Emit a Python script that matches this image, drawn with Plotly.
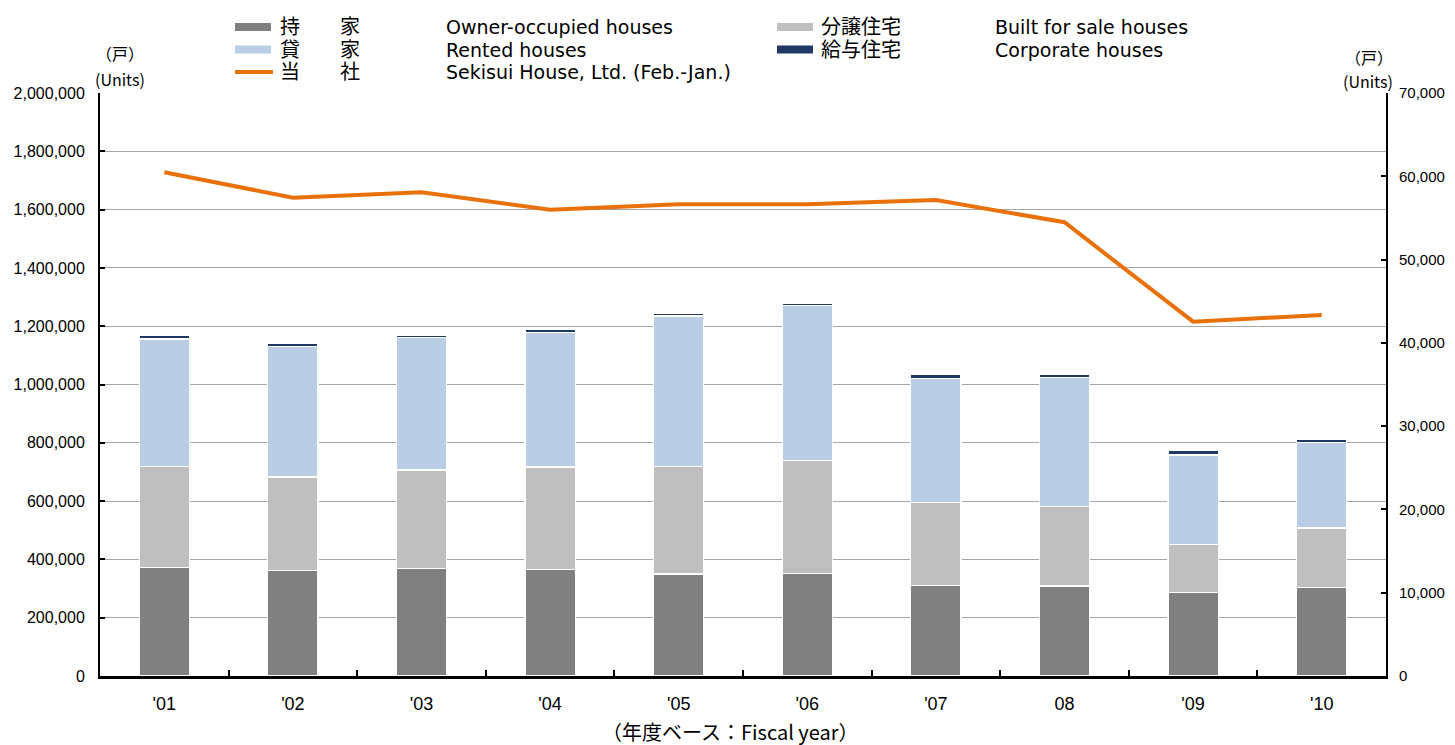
import plotly.graph_objects as go

# ---------------- data ----------------
years = ["'01", "'02", "'03", "'04", "'05", "'06", "'07", "08", "'09", "'10"]
owner = [373000, 363000, 368000, 364000, 350000, 352000, 310000, 309000, 286000, 304000]
built_for_sale = [347000, 320000, 339000, 353000, 370000, 387000, 284000, 273000, 165000, 204000]
rented = [436000, 448000, 453000, 461000, 515000, 531000, 426000, 443000, 307000, 294000]
corporate = [14000, 11000, 10000, 12000, 9000, 8000, 13000, 11000, 15000, 8000]
sekisui = [60480, 57430, 58080, 55990, 56640, 56640, 57150, 54480, 42540, 43350]

names_jp = ["持　　家", "分譲住宅", "貸　　家", "給与住宅", "当　　社"]
names_en = ["Owner-occupied houses", "Built for sale houses", "Rented houses",
            "Corporate houses", "Sekisui House, Ltd. (Feb.-Jan.)"]

C_OWNER = "#808080"
C_SALE = "#BFBFBF"
C_RENT = "#B9CDE5"
C_CORP = "#1F3864"
C_LINE = "#E8710A"

OFF = 8  # page body margin offset
W, H = 1455 - OFF, 745 - OFF
L, R, T, B = 100, 1386, 93, 676  # target screen pixels of plot area

fig = go.Figure()
for vals, col, nm in [(owner, C_OWNER, names_en[0]), (built_for_sale, C_SALE, names_en[1]),
                      (rented, C_RENT, names_en[2]), (corporate, C_CORP, names_en[3])]:
    fig.add_trace(go.Bar(x=years, y=vals, name=nm,
                         marker=dict(color=col, line=dict(color="white", width=1.2)),
                         showlegend=False))
fig.add_trace(go.Scatter(x=years, y=sekisui, name=names_en[4], yaxis="y2", mode="lines",
                         line=dict(color=C_LINE, width=4), showlegend=False))


def px(x):
    return (x - L) / (R - L)


def py(y):
    return (B - y) / (B - T)


shapes = []
annotations = []
CJK = "Noto Sans CJK JP"
JPF = "DejaVu Sans, Noto Sans CJK JP"
ENF = "DejaVu Sans"

# legend: (swatch x, row y, color, kind, jp label, en label, jp x, en x)
legend_rows = [
    (235, 27, C_OWNER, "bar", names_jp[0], names_en[0], 278, 444),
    (777, 27, C_SALE, "bar", names_jp[1], names_en[1], 819, 993),
    (235, 49.5, C_RENT, "bar", names_jp[2], names_en[2], 278, 444),
    (777, 49.5, C_CORP, "bar", names_jp[3], names_en[3], 819, 993),
    (235, 72, C_LINE, "line", names_jp[4], names_en[4], 278, 444),
]
for x0, yc, col, kind, jp, en, xjp, xen in legend_rows:
    if kind == "bar":
        shapes.append(dict(type="rect", xref="paper", yref="paper", x0=px(x0), x1=px(x0 + 36),
                           y0=py(yc + 4), y1=py(yc - 4), fillcolor=col, line=dict(width=0)))
    else:
        shapes.append(dict(type="line", xref="paper", yref="paper", x0=px(x0), x1=px(x0 + 38),
                           y0=py(yc), y1=py(yc), line=dict(color=col, width=4)))
    annotations.append(dict(xref="paper", yref="paper", x=px(xjp), y=py(yc), text=jp, showarrow=False,
                            xanchor="left", yanchor="middle",
                            font=dict(family=JPF, size=20, color="black")))
    annotations.append(dict(xref="paper", yref="paper", x=px(xen), y=py(yc), text=en, showarrow=False,
                            xanchor="left", yanchor="middle",
                            font=dict(family=ENF, size=19, color="black")))

# axis unit labels
for xx, yy, t in [(120, 53, "（戸）"), (120, 79, "(Units)"), (1369, 57, "（戸）"), (1368, 81, "(Units)")]:
    annotations.append(dict(xref="paper", yref="paper", x=px(xx), y=py(yy), text=t, showarrow=False,
                            xanchor="center", yanchor="middle", font=dict(family=CJK, size=16, color="black")))

# x axis title
annotations.append(dict(xref="paper", yref="paper", x=px(730), y=py(732), text="（年度ベース：Fiscal year）",
                        showarrow=False, xanchor="center", yanchor="middle",
                        font=dict(family=CJK, size=20, color="black")))

fig.update_layout(
    width=W, height=H,
    margin=dict(l=L - OFF, r=W - (R - OFF), t=T - OFF, b=H - (B - OFF), autoexpand=False),
    barmode="stack", bargap=0.61,
    plot_bgcolor="white", paper_bgcolor="white",
    font=dict(family="Liberation Sans", color="black"),
    xaxis=dict(type="category", showline=True, linecolor="black", linewidth=2.5,
               ticks="inside", tickson="boundaries", ticklen=6, tickcolor="black", tickwidth=2,
               tickfont=dict(size=18, family="Liberation Sans"), showgrid=False,
               ticklabelstandoff=10),
    yaxis=dict(range=[0, 2000000], dtick=200000, tickformat=",", showline=True, linecolor="black",
               linewidth=2, ticks="inside", ticklen=5, tickcolor="black", tickwidth=2,
               showgrid=True, gridcolor="#A6A6A6", gridwidth=1, zeroline=False,
               tickfont=dict(size=16), ticklabelstandoff=10),
    yaxis2=dict(range=[0, 70000], dtick=10000, tickformat=",", overlaying="y", side="right",
                showline=True, linecolor="black", linewidth=2, ticks="inside", ticklen=5,
                tickcolor="black", tickwidth=2, showgrid=False, zeroline=False,
                tickfont=dict(size=15), ticklabelstandoff=8),
    shapes=shapes, annotations=annotations,
)

fig.write_html("out.html")
